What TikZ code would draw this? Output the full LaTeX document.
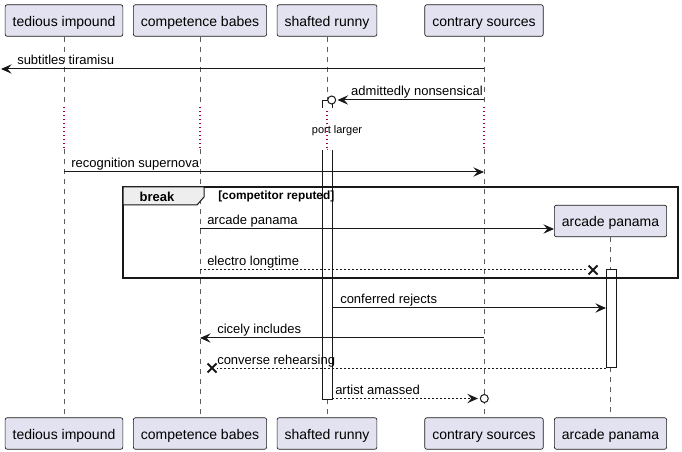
\documentclass[tikz,border=0pt]{standalone}
\usepackage{fontspec}
\setmainfont{Liberation Sans}
\usepackage{xcolor}
\usetikzlibrary{arrows.meta,calc}

\definecolor{actorbg}{HTML}{E2E2F0}
\definecolor{inkline}{HTML}{181818}
\definecolor{delayred}{HTML}{A80036}
\definecolor{tabbg}{HTML}{EEEEEE}

\begin{document}
\begin{tikzpicture}[
    x=0.75pt, y=-0.75pt,
    >={Stealth[length=8pt, width=7pt, inset=3pt]},
    actor/.style={draw=inkline, line width=0.5pt, fill=actorbg, rounded corners=1.5pt,
        minimum height=23.6pt, inner xsep=5.6pt, text height=9pt, text depth=0pt,
        font=\fontsize{10.5}{12}\selectfont},
    life/.style={draw=inkline!70, line width=0.5pt, dash pattern=on 3.75pt off 3.75pt},
    pause/.style={draw=delayred, line width=1pt, dash pattern=on 0.9pt off 2.1pt},
    actbar/.style={draw=inkline, line width=0.75pt, fill=white},
    msg/.style={draw=inkline, line width=0.75pt},
    reply/.style={msg, dash pattern=on 1.5pt off 1.5pt},
    lbl/.style={inner sep=0pt, font=\fontsize{9.75}{11}\selectfont},
    killmark/.style={draw=inkline, line width=1.4pt},
    lostend/.style={draw=inkline, line width=0.75pt, fill=white},
]
\useasboundingbox (0,0) rectangle (682,452);

% --- Participants (top and bottom) and lifelines ---
\foreach \n/\x/\t in {ti/64/tedious impound, cb/200/competence babes,
                      sr/327/shafted runny, cs/484/contrary sources} {
    \node[actor] (\n-top) at (\x,20.5) {\t};
    \node[actor] (\n-bot) at (\x,433.5) {\t};
    \coordinate (\n-d1) at (\x,107);
    \coordinate (\n-d2) at (\x,149);
    \draw[life] (\n-top.south) -- (\n-d1);
    \draw[pause] (\n-d1) -- (\n-d2);
    \draw[life] (\n-d2) -- (\n-bot.north);
}

% --- Created participant ---
\node[actor] (ap-top) at (610.5,221) {arcade panama};
\node[actor] (ap-bot) at (610.5,433.5) {arcade panama};
\draw[life] (ap-top.south) -- (ap-bot.north);

% --- Activation bars ---
\draw[actbar] (322,108) -- (322,101) -- (332,101) -- (332,108);
\fill[white] (322,150) rectangle (332,399);
\draw[actbar] (322,150) -- (322,399) -- (332,399) -- (332,150);
\draw[actbar] (606,270) rectangle (616,367);

% --- Break frame ---
\draw[draw=inkline, line width=1.1pt] (123,187) rectangle (678,278);
\draw[draw=inkline, line width=0.75pt, fill=tabbg]
    (123,187) -- (204,187) -- (204,197) -- (197,205) -- (123,205) -- cycle;
\node[inner sep=0pt, font=\fontsize{9.75}{11}\selectfont\bfseries] (brk) at (157,196.5) {break};
\node[inner sep=0pt, anchor=west, font=\fontsize{8.9}{10}\selectfont\bfseries] (grd) at (218,196.5) {[competitor reputed]};

% --- Messages ---
\coordinate (lost) at (1,69);
\draw[msg, ->] (cs-top |- lost) -- (lost);
\node[lbl, anchor=base west] (l1) at (17,65) {subtitles tiramisu};

\coordinate (ring1) at (331.7,100);
\draw[msg, ->] (cs-top |- ring1) -- (337.5,100);
\draw[lostend] (ring1) circle (3pt);
\node[lbl, anchor=base east] (l2) at (483,96) {admittedly nonsensical};

\node[inner sep=0pt, font=\fontsize{8.25}{10}\selectfont] (l3) at (337,130.5) {port larger};

\draw[msg, ->] (ti-top |- 0,172) -- (cs-top |- 0,172);
\node[lbl, anchor=base west] (l4) at (71,168) {recognition supernova};

\draw[msg, ->] (cb-top |- 0,229) -- (ap-top.west |- 0,229);
\node[lbl, anchor=base west] (l5) at (207,225) {arcade panama};

\coordinate (kill1) at (593,270);
\draw[reply] (cb-top |- kill1) -- (588,270);
\draw[killmark] ($(kill1)+(-4.5,-4.5)$) -- ($(kill1)+(4.5,4.5)$)
                ($(kill1)+(-4.5,4.5)$) -- ($(kill1)+(4.5,-4.5)$);
\node[lbl, anchor=base west] (l6) at (207,266) {electro longtime};

\draw[msg, ->] (332,308) -- (606,308);
\node[lbl, anchor=base west] (l7) at (340,304) {conferred rejects};

\draw[msg, ->] (cs-top |- 0,338) -- (cb-top |- 0,338);
\node[lbl, anchor=base west] (l8) at (217,334) {cicely includes};

\coordinate (kill2) at (212,368);
\draw[reply] (606,368) -- (217,368);
\draw[killmark] ($(kill2)+(-4.5,-4.5)$) -- ($(kill2)+(4.5,4.5)$)
                ($(kill2)+(-4.5,4.5)$) -- ($(kill2)+(4.5,-4.5)$);
\node[lbl, anchor=base west] (l9) at (217,364) {converse rehearsing};

\coordinate (ring2) at (484.3,398.5);
\draw[reply, ->] (332,398.5) -- (478,398.5);
\draw[lostend] (ring2) circle (3pt);
\node[lbl, anchor=base west] (l10) at (335,394.5) {artist amassed};

\end{tikzpicture}
\end{document}
